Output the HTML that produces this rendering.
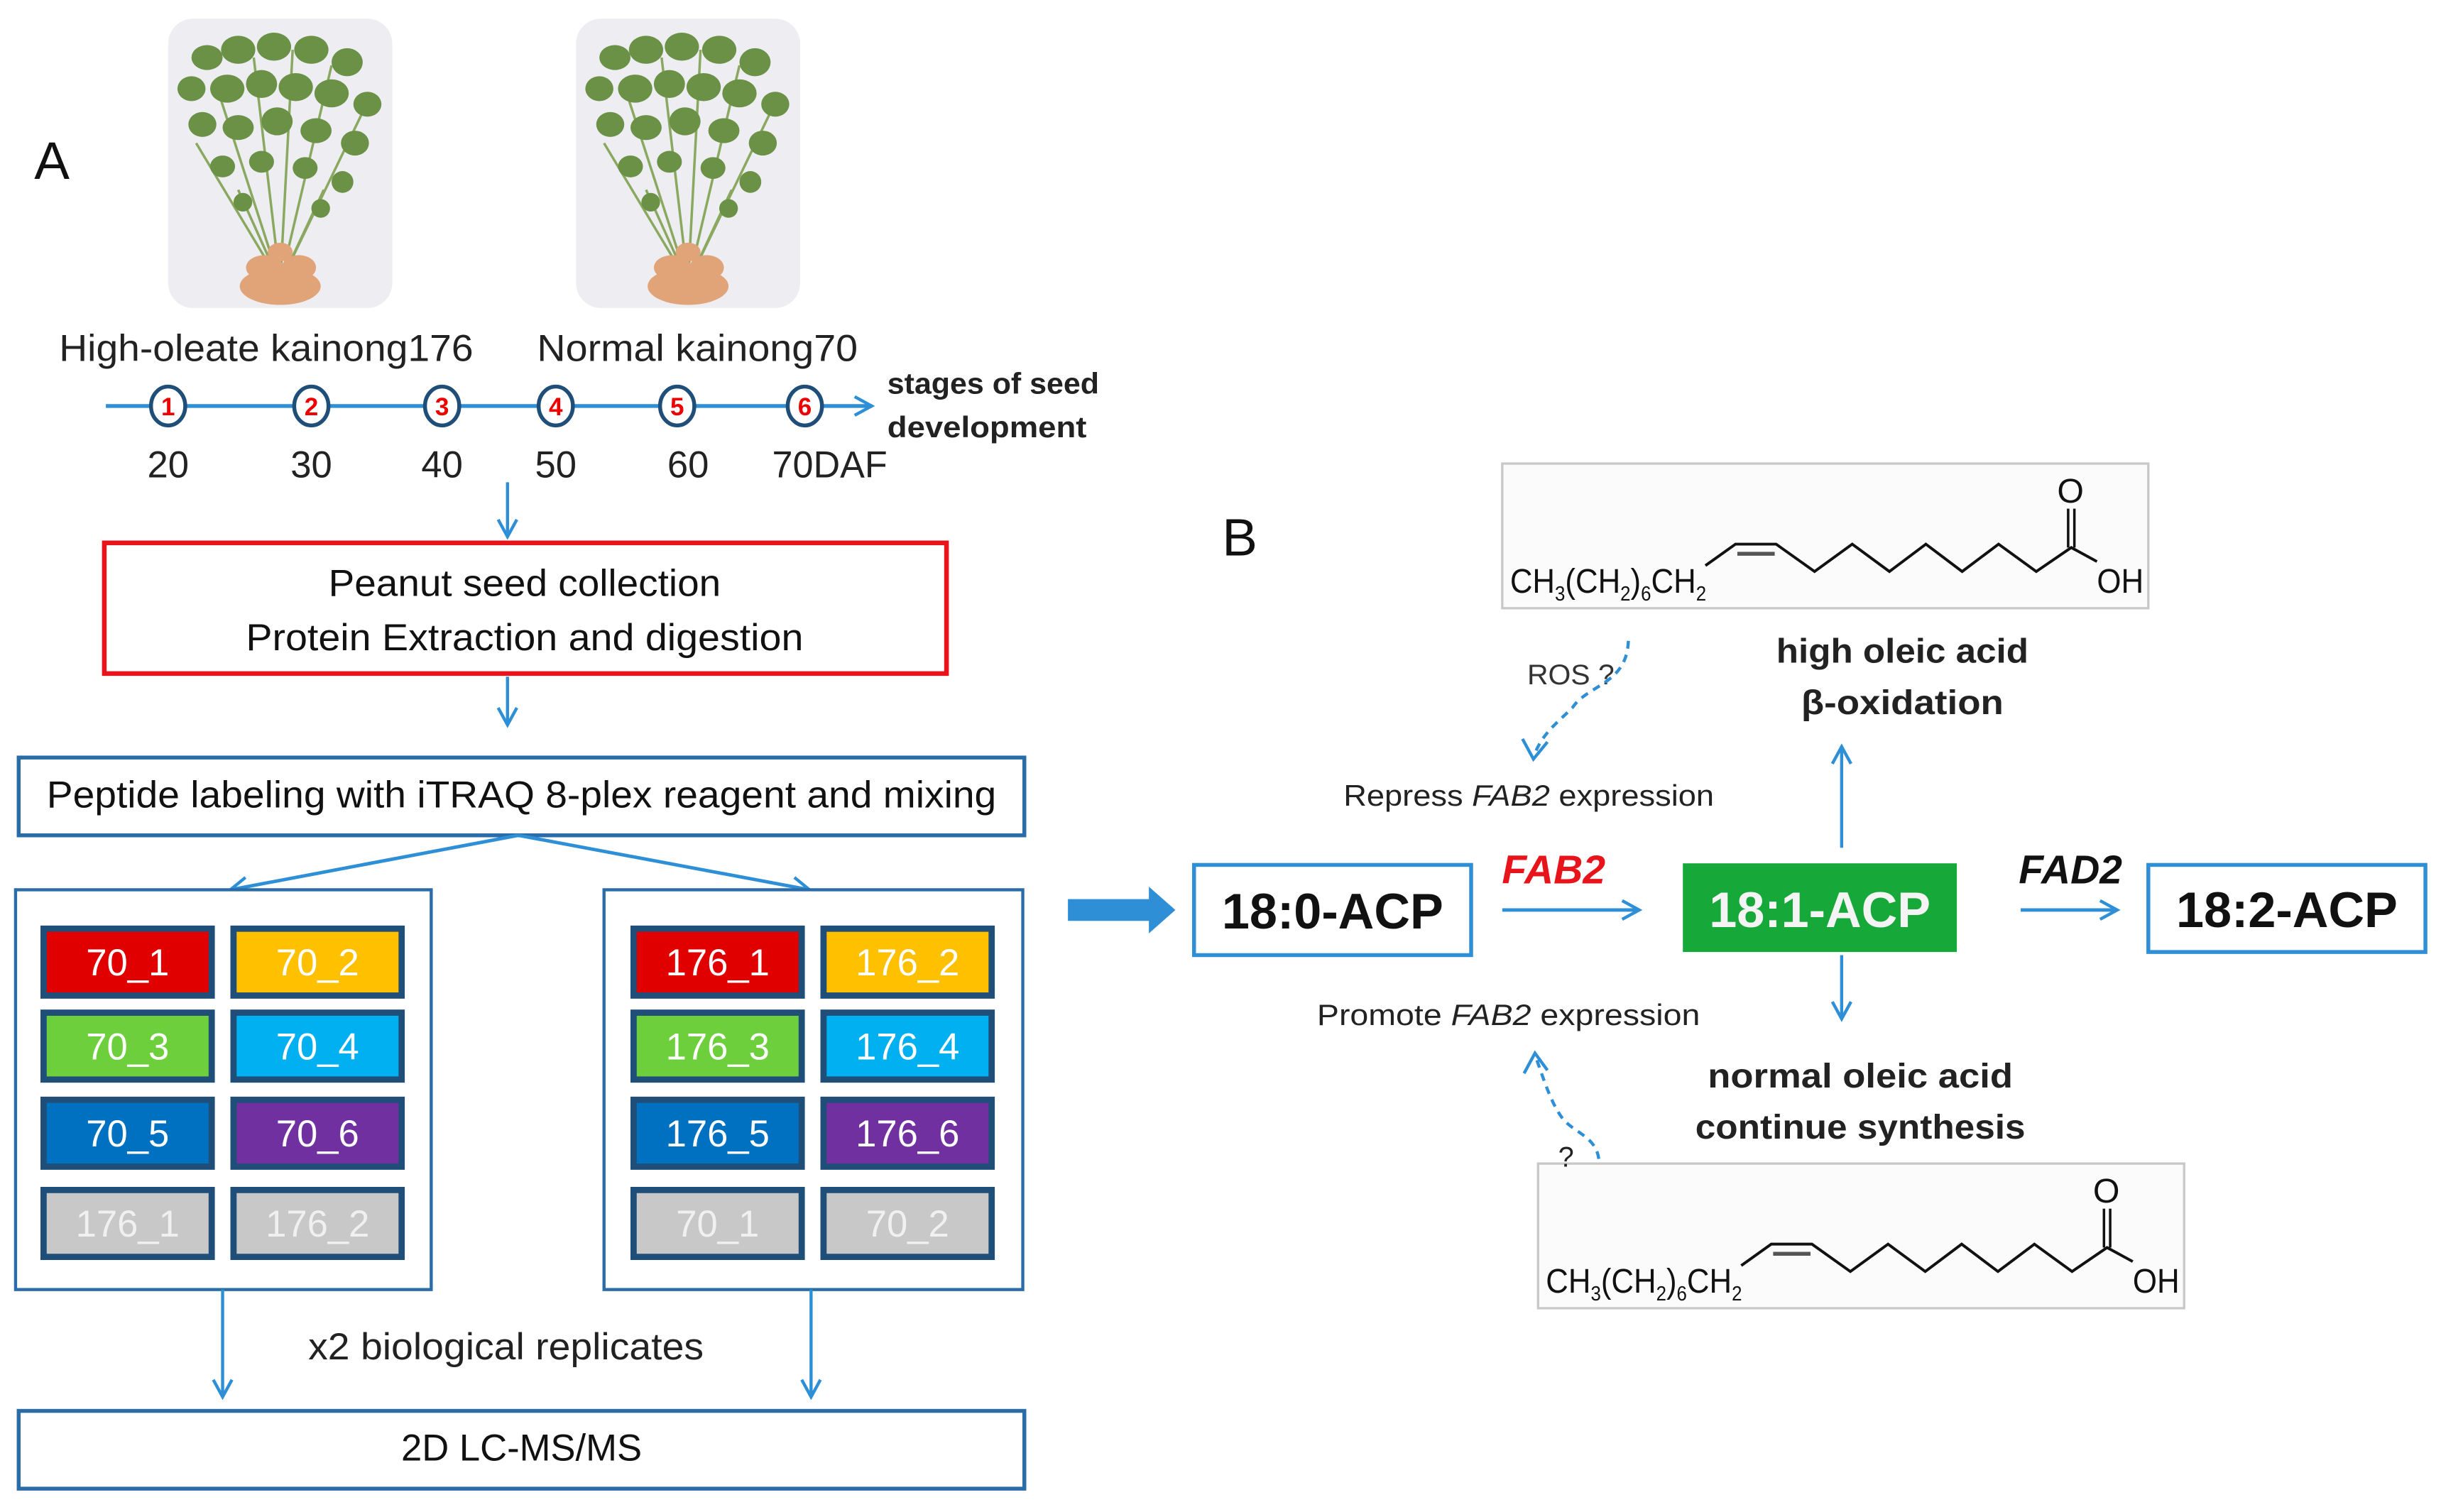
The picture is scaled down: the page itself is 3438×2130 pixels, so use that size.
<!DOCTYPE html>
<html><head><meta charset="utf-8"><style>
html,body{margin:0;padding:0;background:#fff;}
svg{display:block;}
text{font-family:"Liberation Sans",sans-serif;}
</style></head><body>
<svg width="3438" height="2130" viewBox="0 0 1568 972" preserveAspectRatio="none" xmlns="http://www.w3.org/2000/svg">
<defs>
<marker id="ah" markerWidth="14" markerHeight="14" refX="12" refY="7" orient="auto" markerUnits="userSpaceOnUse">
<path d="M1,1 L12,7 L1,13" fill="none" stroke="#2e8fd6" stroke-width="2"/></marker>
<g id="chem">
<rect x="965" y="298" width="415" height="93" fill="#fbfbfb" stroke="#c8c8c8" stroke-width="1.5"/>
<polyline points="1095.5,363.6 1114.8,349.8 1140.9,349.8 1165.6,367.4 1189.8,349.8 1213.7,367.4 1237.1,349.8 1260.4,367.4 1283.8,349.8 1308,367.4 1330.5,352 1347,361" fill="none" stroke="#111" stroke-width="1.8"/>
<line x1="1116" y1="356" x2="1140" y2="356" stroke="#555" stroke-width="2.5"/>
<line x1="1328.5" y1="352" x2="1328.5" y2="327" stroke="#111" stroke-width="1.6"/>
<line x1="1332.5" y1="352" x2="1332.5" y2="327" stroke="#111" stroke-width="1.6"/>
<text x="1330" y="323" font-size="22" text-anchor="middle" fill="#111">O</text>
<text x="1347" y="381" font-size="22" fill="#111" textLength="30" lengthAdjust="spacingAndGlyphs">OH</text>
<text x="970" y="381" font-size="22" fill="#111" textLength="126" lengthAdjust="spacingAndGlyphs">CH<tspan font-size="13" dy="5">3</tspan><tspan dy="-5">(CH</tspan><tspan font-size="13" dy="5">2</tspan><tspan dy="-5">)</tspan><tspan font-size="13" dy="5">6</tspan><tspan dy="-5">CH</tspan><tspan font-size="13" dy="5">2</tspan></text>
</g>
<g id="plant">
<rect x="0" y="0" width="144" height="186" rx="16" fill="#eeeef2"/>
<g stroke="#8aa860" stroke-width="1.6" fill="none">
<path d="M72,170 L30,40 M72,170 L55,25 M72,170 L80,20 M72,170 L105,30 M72,170 L125,60 M72,170 L18,80 M72,170 L45,110 M72,170 L100,110"/>
</g>
<g fill="#6a9146">
<ellipse cx="25" cy="25" rx="10" ry="8"/><ellipse cx="45" cy="20" rx="11" ry="9"/><ellipse cx="68" cy="18" rx="11" ry="9"/><ellipse cx="92" cy="20" rx="11" ry="9"/><ellipse cx="115" cy="28" rx="10" ry="9"/>
<ellipse cx="15" cy="45" rx="9" ry="8"/><ellipse cx="38" cy="45" rx="11" ry="9"/><ellipse cx="60" cy="42" rx="10" ry="9"/><ellipse cx="82" cy="44" rx="11" ry="9"/><ellipse cx="105" cy="48" rx="11" ry="9"/><ellipse cx="128" cy="55" rx="9" ry="8"/>
<ellipse cx="22" cy="68" rx="9" ry="8"/><ellipse cx="45" cy="70" rx="10" ry="8"/><ellipse cx="70" cy="66" rx="10" ry="9"/><ellipse cx="95" cy="72" rx="10" ry="8"/><ellipse cx="120" cy="80" rx="9" ry="8"/>
<ellipse cx="35" cy="95" rx="8" ry="7"/><ellipse cx="60" cy="92" rx="8" ry="7"/><ellipse cx="88" cy="96" rx="8" ry="7"/><ellipse cx="112" cy="105" rx="7" ry="7"/>
<ellipse cx="48" cy="118" rx="6" ry="6"/><ellipse cx="98" cy="122" rx="6" ry="6"/>
</g>
<g fill="#e0a478"><ellipse cx="72" cy="172" rx="26" ry="12"/><ellipse cx="62" cy="160" rx="12" ry="8"/><ellipse cx="84" cy="160" rx="11" ry="8"/><ellipse cx="72" cy="150" rx="8" ry="6"/></g>
</g>
</defs>

<!-- Panel A -->
<text x="22" y="115" font-size="34" fill="#111">A</text>
<use href="#plant" x="108" y="12"/>
<use href="#plant" x="370" y="12"/>
<text x="38" y="232" font-size="24" fill="#222" textLength="266" lengthAdjust="spacingAndGlyphs">High-oleate kainong176</text>
<text x="345" y="232" font-size="24" fill="#222" textLength="206" lengthAdjust="spacingAndGlyphs">Normal kainong70</text>
<line x1="68" y1="261" x2="560" y2="261" stroke="#2e8fd6" stroke-width="2.5" marker-end="url(#ah)"/>
<g fill="#fff" stroke="#1f4e79" stroke-width="2.5">
<ellipse cx="108" cy="261" rx="11" ry="12.5"/><ellipse cx="200" cy="261" rx="11" ry="12.5"/><ellipse cx="284" cy="261" rx="11" ry="12.5"/>
<ellipse cx="357" cy="261" rx="11" ry="12.5"/><ellipse cx="435" cy="261" rx="11" ry="12.5"/><ellipse cx="517" cy="261" rx="11" ry="12.5"/>
</g>
<g fill="#e00" font-size="16" font-weight="bold" text-anchor="middle">
<text x="108" y="267">1</text><text x="200" y="267">2</text><text x="284" y="267">3</text>
<text x="357" y="267">4</text><text x="435" y="267">5</text><text x="517" y="267">6</text>
</g>
<g fill="#222" font-size="24" text-anchor="middle">
<text x="108" y="307">20</text><text x="200" y="307">30</text><text x="284" y="307">40</text>
<text x="357" y="307">50</text><text x="442" y="307">60</text><text x="533" y="307" textLength="74" lengthAdjust="spacingAndGlyphs">70DAF</text>
</g>
<text x="570" y="253" font-size="19" font-weight="bold" fill="#222" textLength="136" lengthAdjust="spacingAndGlyphs">stages of seed</text>
<text x="570" y="281" font-size="19" font-weight="bold" fill="#222" textLength="128" lengthAdjust="spacingAndGlyphs">development</text>

<line x1="326" y1="310" x2="326" y2="345" stroke="#2e8fd6" stroke-width="2" marker-end="url(#ah)"/>
<rect x="67" y="349" width="541" height="84" fill="#fff" stroke="#e8141b" stroke-width="3"/>
<text x="337" y="383" font-size="24" text-anchor="middle" fill="#111" textLength="252" lengthAdjust="spacingAndGlyphs">Peanut seed collection</text>
<text x="337" y="418" font-size="24" text-anchor="middle" fill="#111" textLength="358" lengthAdjust="spacingAndGlyphs">Protein Extraction and digestion</text>
<line x1="326" y1="435" x2="326" y2="466" stroke="#2e8fd6" stroke-width="2" marker-end="url(#ah)"/>
<rect x="12" y="487" width="646" height="50" fill="#fff" stroke="#2a6ca8" stroke-width="2.5"/>
<text x="335" y="519" font-size="24" text-anchor="middle" fill="#111" textLength="610" lengthAdjust="spacingAndGlyphs">Peptide labeling with iTRAQ 8-plex reagent and mixing</text>
<line x1="333" y1="537" x2="148" y2="572" stroke="#2e8fd6" stroke-width="2.2" marker-end="url(#ah)"/>
<line x1="333" y1="537" x2="520" y2="572" stroke="#2e8fd6" stroke-width="2.2" marker-end="url(#ah)"/>
<rect x="10" y="572" width="267" height="257" fill="#fff" stroke="#2a6ca8" stroke-width="2"/>
<rect x="388" y="572" width="269" height="257" fill="#fff" stroke="#2a6ca8" stroke-width="2"/>

<g stroke="#1f4e79" stroke-width="4">
<rect x="28" y="597" width="108" height="43" fill="#e00000"/><rect x="150" y="597" width="108" height="43" fill="#ffc000"/>
<rect x="28" y="651" width="108" height="43" fill="#6ecf3c"/><rect x="150" y="651" width="108" height="43" fill="#00b0f0"/>
<rect x="28" y="707" width="108" height="43" fill="#0070c0"/><rect x="150" y="707" width="108" height="43" fill="#7030a0"/>
<rect x="28" y="765" width="108" height="43" fill="#c8c8c8"/><rect x="150" y="765" width="108" height="43" fill="#c8c8c8"/>
<rect x="407" y="597" width="108" height="43" fill="#e00000"/><rect x="529" y="597" width="108" height="43" fill="#ffc000"/>
<rect x="407" y="651" width="108" height="43" fill="#6ecf3c"/><rect x="529" y="651" width="108" height="43" fill="#00b0f0"/>
<rect x="407" y="707" width="108" height="43" fill="#0070c0"/><rect x="529" y="707" width="108" height="43" fill="#7030a0"/>
<rect x="407" y="765" width="108" height="43" fill="#c8c8c8"/><rect x="529" y="765" width="108" height="43" fill="#c8c8c8"/>
</g>
<g font-size="24" text-anchor="middle" fill="#fff">
<text x="82" y="627">70_1</text><text x="204" y="627">70_2</text>
<text x="82" y="681">70_3</text><text x="204" y="681">70_4</text>
<text x="82" y="737">70_5</text><text x="204" y="737">70_6</text>
<text x="82" y="795" fill="#f0f0f0">176_1</text><text x="204" y="795" fill="#f0f0f0">176_2</text>
<text x="461" y="627">176_1</text><text x="583" y="627">176_2</text>
<text x="461" y="681">176_3</text><text x="583" y="681">176_4</text>
<text x="461" y="737">176_5</text><text x="583" y="737">176_6</text>
<text x="461" y="795" fill="#f0f0f0">70_1</text><text x="583" y="795" fill="#f0f0f0">70_2</text>
</g>
<line x1="143" y1="829" x2="143" y2="898" stroke="#2e8fd6" stroke-width="2" marker-end="url(#ah)"/>
<line x1="521" y1="829" x2="521" y2="898" stroke="#2e8fd6" stroke-width="2" marker-end="url(#ah)"/>
<text x="325" y="874" font-size="24" text-anchor="middle" fill="#222" textLength="254" lengthAdjust="spacingAndGlyphs">x2 biological replicates</text>
<rect x="12" y="907" width="646" height="50" fill="#fff" stroke="#2a6ca8" stroke-width="2.5"/>
<text x="335" y="939" font-size="24" text-anchor="middle" fill="#111">2D LC-MS/MS</text>

<!-- Panel B -->
<path d="M686,578 L738,578 L738,570 L755,585 L738,600 L738,592 L686,592 Z" fill="#2e8fd6"/>
<text x="785" y="357" font-size="34" fill="#111">B</text>
<use href="#chem"/>
<use href="#chem" x="23" y="450"/>
<text x="981" y="440" font-size="18" fill="#333" textLength="56" lengthAdjust="spacingAndGlyphs">ROS ?</text>
<path d="M1046,412 C1045,440 1020,440 1010,455 C1000,465 990,472 985,487" fill="none" stroke="#2e8fd6" stroke-width="2" stroke-dasharray="5,4"/>
<path d="M978,475 L985,488 L994,477" fill="none" stroke="#2e8fd6" stroke-width="2"/>
<text x="1222" y="426" font-size="22" font-weight="bold" text-anchor="middle" fill="#222" textLength="162" lengthAdjust="spacingAndGlyphs">high oleic acid</text>
<text x="1222" y="459" font-size="22" font-weight="bold" text-anchor="middle" fill="#222" textLength="130" lengthAdjust="spacingAndGlyphs">β-oxidation</text>
<line x1="1183" y1="545" x2="1183" y2="480" stroke="#2e8fd6" stroke-width="2" marker-end="url(#ah)"/>
<text x="982" y="518" font-size="19" text-anchor="middle" fill="#222" textLength="238" lengthAdjust="spacingAndGlyphs">Repress <tspan font-style="italic">FAB2</tspan> expression</text>
<rect x="767" y="556" width="178" height="58" fill="#fff" stroke="#2e8fd6" stroke-width="2.5"/>
<text x="856" y="597" font-size="32" font-weight="bold" text-anchor="middle" fill="#111">18:0-ACP</text>
<text x="998" y="568" font-size="26" font-weight="bold" font-style="italic" text-anchor="middle" fill="#e8141b">FAB2</text>
<line x1="965" y1="585" x2="1053" y2="585" stroke="#2e8fd6" stroke-width="2.2" marker-end="url(#ah)"/>
<rect x="1081" y="555" width="176" height="57" fill="#17a83a"/>
<text x="1169" y="596" font-size="32" font-weight="bold" text-anchor="middle" fill="#f4f4f4">18:1-ACP</text>
<text x="1330" y="568" font-size="26" font-weight="bold" font-style="italic" text-anchor="middle" fill="#111">FAD2</text>
<line x1="1298" y1="585" x2="1360" y2="585" stroke="#2e8fd6" stroke-width="2.2" marker-end="url(#ah)"/>
<rect x="1380" y="556" width="178" height="56" fill="#fff" stroke="#2e8fd6" stroke-width="2.5"/>
<text x="1469" y="596" font-size="32" font-weight="bold" text-anchor="middle" fill="#111">18:2-ACP</text>
<line x1="1183" y1="614" x2="1183" y2="655" stroke="#2e8fd6" stroke-width="2" marker-end="url(#ah)"/>
<text x="969" y="659" font-size="19" text-anchor="middle" fill="#222" textLength="246" lengthAdjust="spacingAndGlyphs">Promote <tspan font-style="italic">FAB2</tspan> expression</text>
<text x="1195" y="699" font-size="22" font-weight="bold" text-anchor="middle" fill="#222" textLength="196" lengthAdjust="spacingAndGlyphs">normal oleic acid</text>
<text x="1195" y="732" font-size="22" font-weight="bold" text-anchor="middle" fill="#222" textLength="212" lengthAdjust="spacingAndGlyphs">continue synthesis</text>
<path d="M1027,745 C1025,730 1010,728 1003,718 C996,708 992,695 986,678" fill="none" stroke="#2e8fd6" stroke-width="2" stroke-dasharray="5,4"/>
<path d="M979,690 L986,677 L994,688" fill="none" stroke="#2e8fd6" stroke-width="2"/>
<text x="1001" y="750" font-size="18" fill="#222">?</text>
</svg>
</body></html>
